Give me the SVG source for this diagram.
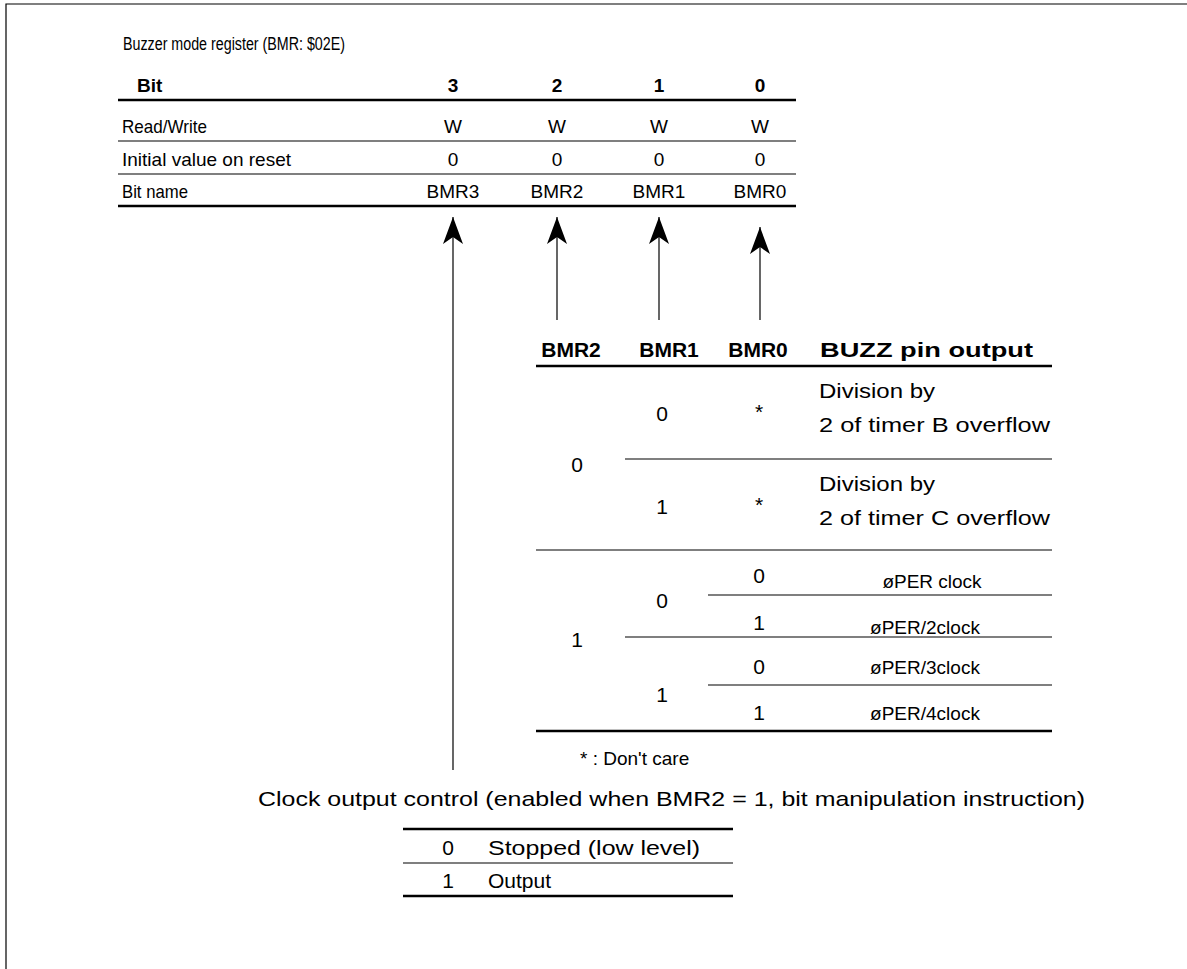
<svg xmlns="http://www.w3.org/2000/svg" width="1187" height="969" viewBox="0 0 1187 969">
<defs>
<style>
text{font-family:"Liberation Sans",Arial,sans-serif;font-size:19px;fill:#000}
.b{font-weight:bold}
.m{text-anchor:middle}
.t{font-size:18px}
.mid{font-size:21px}
.hd{font-size:21px;font-weight:bold}
.per{font-size:19px}
.clk{font-size:21px}
.thick{stroke:#000;stroke-width:2.5;fill:none}
.thin{stroke:#000;stroke-width:1.2;fill:none}
.conn{stroke:#000;stroke-width:1.2;fill:none;marker-end:url(#ah)}
</style>
<marker id="ah" markerUnits="userSpaceOnUse" orient="auto" refX="0" refY="0" markerWidth="40" markerHeight="40" viewBox="-30 -15 40 30" overflow="visible">
<path d="M0,0 L-27,-10 L-20,0 L-27,10 Z" fill="#000"/>
</marker>
</defs>
<rect width="1187" height="969" fill="#fff"/>
<path d="M6,969 V4 H1187" class="thin" stroke-width="1.5"/>

<g id="register-table">
<text x="123" y="50" class="t" textLength="222" lengthAdjust="spacingAndGlyphs">Buzzer mode register (BMR: $02E)</text>
<text x="137" y="92" class="b">Bit</text>
<text x="453" y="92" class="b m">3</text>
<text x="557" y="92" class="b m">2</text>
<text x="659" y="92" class="b m">1</text>
<text x="760" y="92" class="b m">0</text>
<line x1="118" y1="100" x2="796" y2="100" class="thick"/>
<text x="122" y="133" textLength="85" lengthAdjust="spacingAndGlyphs">Read/Write</text>
<text x="453" y="133" class="m">W</text>
<text x="557" y="133" class="m">W</text>
<text x="659" y="133" class="m">W</text>
<text x="760" y="133" class="m">W</text>
<line x1="118" y1="141" x2="796" y2="141" class="thin"/>
<text x="122" y="166" textLength="169" lengthAdjust="spacingAndGlyphs">Initial value on reset</text>
<text x="453" y="166" class="m">0</text>
<text x="557" y="166" class="m">0</text>
<text x="659" y="166" class="m">0</text>
<text x="760" y="166" class="m">0</text>
<line x1="118" y1="174" x2="796" y2="174" class="thin"/>
<text x="122" y="198" textLength="66" lengthAdjust="spacingAndGlyphs">Bit name</text>
<text x="453" y="198" class="m">BMR3</text>
<text x="557" y="198" class="m">BMR2</text>
<text x="659" y="198" class="m">BMR1</text>
<text x="760" y="198" class="m">BMR0</text>
<line x1="118" y1="206" x2="796" y2="206" class="thick"/>
</g>

<g id="connectors">
<line x1="453" y1="770" x2="453" y2="217" class="conn"/>
<line x1="557" y1="320" x2="557" y2="217" class="conn"/>
<line x1="659" y1="320" x2="659" y2="217" class="conn"/>
<line x1="760" y1="320" x2="760" y2="227" class="conn"/>
</g>

<g id="buzz-table">
<text x="571" y="357" class="hd m">BMR2</text>
<text x="669" y="357" class="hd m">BMR1</text>
<text x="758" y="357" class="hd m">BMR0</text>
<text x="820" y="357" class="hd" textLength="213" lengthAdjust="spacingAndGlyphs">BUZZ pin output</text>
<line x1="536" y1="366" x2="1052" y2="366" class="thick"/>
<text x="662" y="421" class="mid m">0</text>
<text x="759" y="419" class="mid m">*</text>
<text x="819" y="398" class="mid" textLength="116" lengthAdjust="spacingAndGlyphs">Division by</text>
<text x="819" y="432" class="mid" textLength="231" lengthAdjust="spacingAndGlyphs">2 of timer B overflow</text>
<line x1="625" y1="459" x2="1052" y2="459" class="thin"/>
<text x="577" y="472" class="mid m">0</text>
<text x="662" y="514" class="mid m">1</text>
<text x="759" y="512" class="mid m">*</text>
<text x="819" y="491" class="mid" textLength="116" lengthAdjust="spacingAndGlyphs">Division by</text>
<text x="819" y="525" class="mid" textLength="231" lengthAdjust="spacingAndGlyphs">2 of timer C overflow</text>
<line x1="536" y1="550" x2="1052" y2="550" class="thin"/>
<text x="759" y="583" class="mid m">0</text>
<text x="932" y="588" class="per m">øPER clock</text>
<line x1="708" y1="595" x2="1052" y2="595" class="thin"/>
<text x="662" y="608" class="mid m">0</text>
<text x="759" y="630" class="mid m">1</text>
<text x="925" y="634" class="per m">øPER/2clock</text>
<line x1="625" y1="637" x2="1052" y2="637" class="thin"/>
<text x="577" y="647" class="mid m">1</text>
<text x="759" y="674" class="mid m">0</text>
<text x="925" y="674" class="per m">øPER/3clock</text>
<line x1="708" y1="685" x2="1052" y2="685" class="thin"/>
<text x="662" y="702" class="mid m">1</text>
<text x="759" y="720" class="mid m">1</text>
<text x="925" y="720" class="per m">øPER/4clock</text>
<line x1="536" y1="731" x2="1052" y2="731" class="thick"/>
<text x="580" y="765">* : Don't care</text>
</g>

<g id="clock-control">
<text x="258" y="806" class="clk" textLength="827" lengthAdjust="spacingAndGlyphs">Clock output control (enabled when BMR2 = 1, bit manipulation instruction)</text>
<line x1="403" y1="829" x2="733" y2="829" class="thick"/>
<text x="448" y="855" class="clk m">0</text>
<text x="488" y="855" class="clk" textLength="212" lengthAdjust="spacingAndGlyphs">Stopped (low level)</text>
<line x1="403" y1="863" x2="733" y2="863" class="thin"/>
<text x="448" y="888" class="clk m">1</text>
<text x="488" y="888" class="clk">Output</text>
<line x1="403" y1="896" x2="733" y2="896" class="thick"/>
</g>
</svg>
